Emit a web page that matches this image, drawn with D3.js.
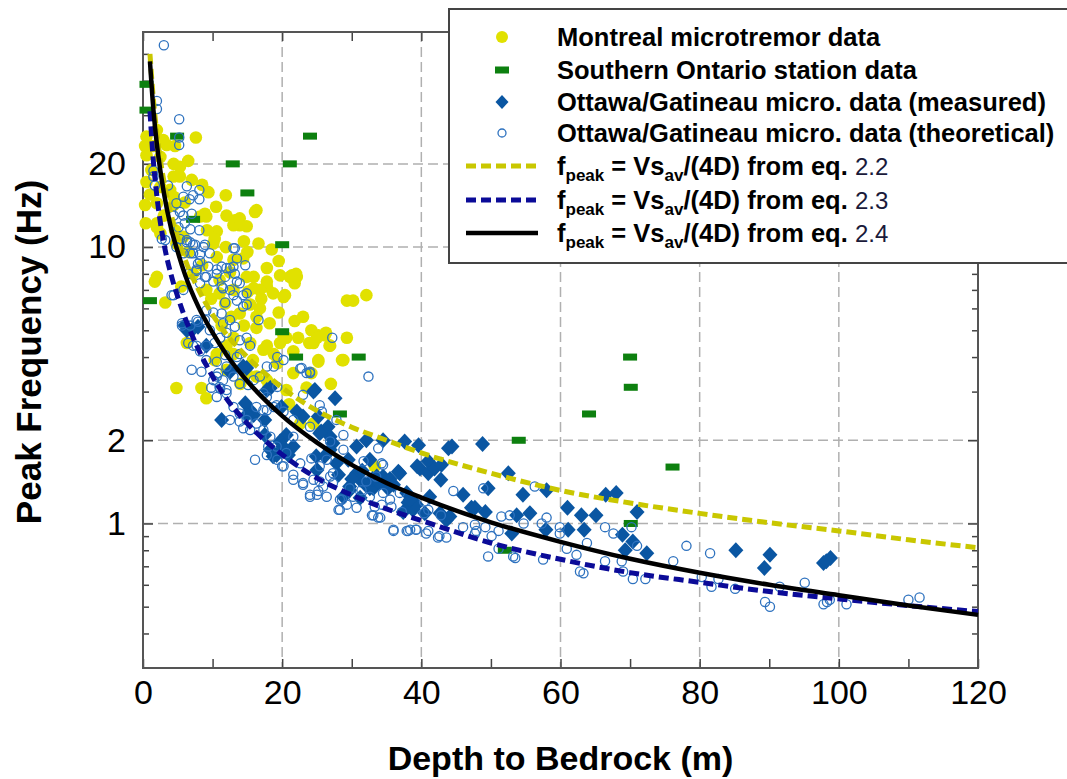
<!DOCTYPE html>
<html>
<head>
<meta charset="utf-8">
<script src="https://cdn.jsdelivr.net/npm/d3@7"></script>
<style>
  body { margin: 0; background: #fff; }
  text { font-family: "Liberation Sans", Arial, sans-serif; }
</style>
</head>
<body>
<svg id="chart" width="1067" height="779"></svg>
<script>
// depth (m), peak frequency (Hz)
var montreal = [
  [7.6,24.9],[0.5,25.1],[2,26.5],[2.9,24.4],[0.3,23.2],[1.5,23.2],[3.4,23.4],[4.6,23.2],
  [0.5,21.5],[2.5,21.2],[4.4,20],[5.3,19.5],[0.5,17.2],[2.5,16.5],[4.4,18],[5.3,18],[3.9,16.1],
  [4.4,15.2],[9.4,15.8],[11.9,15.4],[2,14.4],[4.4,14.2],[16.3,13.6],[16.1,13.4],[13.2,12.5],
  [13.9,12.0],[13,12],[8.9,13.2],[9.1,12.9],[2,12.2],[2.5,11.2],[10.6,11.4],[10.3,10.7],
  [16.6,10.3],[11.9,10.0],[4.8,10.3],[0.3,14.2],[0.4,12.2],[13.9,12.7],[14.9,11.9],
  [21.1,7.8],[22.1,7.8],[17.8,8.4],[15.9,7.8],[14.9,7.8],[17.8,7.2],[20.2,6.6],[29.3,6.4],
  [30.2,6.4],[32.1,6.7],[10.6,9.2],[13,9.0],[14.4,9.1],[2,7.8],[1.7,7.5],[3.2,6.3],[4.8,3.09],
  [8.4,3.09],[9.1,2.84],[16.3,5.6],[16.3,5.1],[17.8,4.4],[18.8,4.1],[19.3,3.8],[20.6,4.7],
  [21.8,5.4],[22.3,4.7],[21.6,4.2],[21.6,3.5],[23.9,4.5],[25.2,4.8],[26.1,4.8],[26.9,4.4],
  [25.2,3.9],[28.8,3.9],[29.3,4.7],[15.9,7.1],[17.8,7.5],[20.4,6.7],[21.8,7.4],[13,7.0],
  [13.9,5.75],[13,4.7],[10.6,4.1],[12,3.6],[13,4.1],[15.8,3.9],[14.9,3.5],[16.3,3.4],[17.8,3.3],
  [20.6,3.04],[33.3,1.61],[22.6,2.3],[24.5,2.3],[19.7,7.9],[21.4,7.9],[16.8,7.0],[18.7,6.8],
  [15.1,6.9],[16.8,6.0],[15.4,6.2],[24.2,5.0],[25,4.7],[12.7,5.6],[11.8,6.25],[9.1,7.0],
  [11.3,5.2],[15.4,4.5],[17.3,4.25],[19.7,4.5],[20.2,4.8],[10.3,3.9],[6.3,4.5],[2,11.8],
  [4.6,11.5],[5.8,10.9],[8.2,12.9],[9.2,11.5],[10.1,10.3],[26.3,4.9],[24.5,4.5],[26.8,4.4],
  [25.2,3.85],[28.6,3.9],[24.2,3.5],[6.5,9.6],[8.5,8.6],[7.2,8.0],[5.5,7.2],[9.8,6.5],
  [11,7.6],[12.5,8.1],[18.5,9.8],[19.5,8.9],[22,8.0],[1.2,19],[1,15.5],[3,13],[6,14.5],
  [7,17.5],[6.5,20.5],[8.5,16.8],[10.5,14],[12,13],[14.5,10.5],[15,9.6],
  [14,3.2],[18,3.1],[21,2.7],[23.5,3.1],[27,3.2],[18.2,5.3],[19.5,5.8],[14.5,5.2],[12,4.4],
  [17,6.5],[23,5.6],[11,6.8]
];

var ontario = [
  [0.5,38.8],[0.5,31.3],[4.9,25.2],[24,25.2],[12.9,20],[21.1,20],[15,15.7],[7.2,12.6],
  [20,10.2],[1,6.4],[20,4.94],[22,4.0],[31,4.0],[28.3,2.49],[54,2.0],[64.1,2.49],
  [70.1,3.11],[70,4.0],[76.1,1.6],[70.1,1.0],[52,0.8]
];

var ottawaMeasured = [
  [11.3,2.37],[9.1,4.4],[7.9,5.15],[6.3,5.0],[14.9,3.65],[12.5,3.54],[15.4,2.57],[15.9,2.47],
  [18.3,3.09],[19.9,2.64],[17.5,2.37],[19.2,1.77],[20.6,2.09],[21.6,1.9],[23,2.44],[24.7,3.04],
  [27.6,2.84],[25.2,2.44],[26.6,2.24],[25.6,2.15],[26.9,2.06],[24.9,1.75],[26.1,1.75],
  [27.8,1.65],[30.7,1.9],[32.1,2.0],[34.5,2.0],[37.6,1.98],[39.6,1.92],[43.9,1.87],[36.9,1.52],
  [39.8,1.58],[41,1.52],[42.8,1.44],[31.2,1.44],[32.6,1.34],[34.5,1.48],[37.9,1.29],[38.1,1.19],
  [38.8,1.12],[40.5,1.09],[42.7,1.09],[43.6,1.03],[41.2,1.25],[28.8,1.25],[29.7,1.36],
  [27.3,1.95],[29.5,1.7],[30.7,1.52],[25.4,2.12],[44.4,1.9],[32.6,1.7],[36.7,1.54],[39.4,1.61],
  [41,1.68],[41.9,1.58],[42.9,1.63],[46,1.27],[47.2,1.14],[44.1,1.06],[39.3,1.17],[38.4,1.22],
  [37.4,1.1],[33.1,1.34],[33.6,1.48],[31.2,1.24],[29.7,1.32],[28.1,1.5],[26.9,1.85],[25,1.56],
  [35.2,1.34],[48.8,1.94],[52.5,1.52],[49.6,1.34],[54.6,1.27],[58,1.32],[47.7,1.14],[49.2,1.1],
  [53.7,1.07],[55.6,1.09],[53,0.92],[57.9,0.95],[61,1.14],[63,1.07],[65.1,1.07],[61.1,0.95],
  [63.4,0.95],[66.5,1.27],[68,1.29],[71,1.1],[68.9,0.91],[70.4,0.86],[69.3,0.8],[72.4,0.78],
  [85.2,0.8],[90.1,0.77],[89.3,0.69],[97.8,0.72],[98.8,0.75],[98.2,0.73],[7,5.0],[6,5.2],
  [14.4,3.7],[14.7,2.72],[17.8,3.04],[24.5,3.0],[22.1,2.54],[14.9,2.47],[17.5,2.09],[19.7,1.98],
  [20.1,1.9],[18.7,1.75],[20.9,1.77],[18.3,1.85],[31.5,1.55],[33,1.45],[32,1.38],[34,1.4],
  [30,1.45],[35.5,1.45],[36,1.38]
];

var ottawaTheory = [
  [3,53.7],[2,33.8],[2,31.6],[5.2,29],[5.2,24.9],[5.2,23.4],[1.5,18.9],[1.5,18],[1.7,16.7],
  [3.6,16.7],[6.3,16.6],[8.1,16.1],[8.1,14.9],[6.7,14.9],[5.8,15.2],[4.8,14.4],[7.2,15.4],
  [5.3,13.4],[4.4,13],[5.8,13],[7,13.2],[6,12.2],[5.1,11.8],[6.8,11.6],[8.1,11.5],[5.3,10.7],
  [6.8,10.4],[3.2,10.6],[2.7,10.7],[7.2,10.2],[8.7,10],[13.2,9.9],[14.9,6.8],[13,6.7],
  [11.5,7.1],[9.1,7.8],[7.7,8.3],[7.2,9.5],[6.3,10.6],[4.8,10.0],[5.8,9.5],[8.2,8.9],[9.4,8.5],
  [10.6,8.0],[12,8.4],[13,8.5],[6.3,10.4],[7.5,10.2],[8.9,10.2],[6.8,9.5],[8.2,9.4],[9.6,9.5],
  [7.9,8.7],[10.6,8.3],[7.7,8.2],[6.5,8.0],[8.9,7.8],[11.3,8.5],[12.5,8.4],[13.2,8.0],
  [11.8,7.8],[10.1,7.5],[8.2,7.4],[5.8,7.0],[4.4,6.7],[11.3,7.2],[12.5,7.0],[13.9,7.4],
  [13,9.9],[14.4,6.7],[14.9,6.2],[14.4,6.1],[13.5,6.4],[11.8,6.3],[9.1,5.9],[10.1,5.8],
  [11.3,5.75],[8.9,5.45],[7.9,5.37],[6.8,5.2],[5.6,5.2],[9.6,5.0],[11.5,5.3],[12.5,5.45],
  [13.2,5.15],[12,4.9],[11.1,4.7],[10.3,4.5],[9.1,4.4],[7.7,4.4],[6.5,4.5],[4.1,6.7],[13.9,4.6],
  [14.9,4.7],[15.4,4.4],[13.9,4.1],[13.5,4.0],[11.8,4.07],[10.6,3.85],[12,3.7],[10.6,3.4],
  [11.5,3.3],[9.8,3.1],[11.1,3.08],[12,3.04],[13.9,3.2],[15.9,3.3],[16.8,3.4],[17.8,3.7],
  [18.8,3.7],[19.3,4.0],[20.2,3.9],[22.6,3.64],[23.5,3.5],[24,3.54],[23,2.92],[19.3,3.12],
  [17.8,2.87],[18.8,2.64],[17.3,2.57],[13.9,2.34],[14.4,2.21],[15.4,2.18],[12.5,2.37],[13,2.64],
  [10.6,2.87],[7,3.6],[8.4,3.54],[16.6,5.45],[13.5,9.1],[14.7,8.6],[13.5,7.5],
  [16.1,1.7],[18,1.9],[17.8,1.77],[19.3,1.7],[20,1.61],[21.6,1.5],[21.6,1.44],[23,1.4],[24,1.25],
  [25,1.27],[22.6,1.65],[24.5,1.44],[20.2,1.61],[23,1.38],[28.3,1.22],[28.3,1.12],[30.7,1.14],
  [32.9,1.07],[33.8,1.05],[36,0.94],[38.1,0.94],[39.3,0.95],[40.7,0.92],[42.6,0.9],[34.5,1.29],
  [32.1,1.42],[33.5,1.48],[31.7,1.68],[34.5,1.63],[33.8,1.87],[27.3,1.52],[27.3,1.4],[29.7,1.34],
  [26.4,1.7],[25.4,1.61],[27.8,2.37],[25.4,2.68],[25.7,2.54],[24,2.24],[21.6,2.06],[20.6,1.8],
  [19.2,1.9],[18.3,2.06],[17.3,2.18],[16.3,2.3],[14.9,2.37],[13.9,2.5],[12,2.96],[11,3.12],
  [10.1,3.3],[10.8,3.5],[13,3.4],[15.1,3.17],[17.3,2.96],[19.2,2.68],[20.2,2.54],[21.6,2.37],
  [22.8,3.65],[24,3.5],[27.2,4.7],[32.4,3.4],[17.8,2.57],[16.3,2.64],[9.1,3.9],[8.2,4.2],
  [7.2,4.4],[5.6,5.3],[7.7,5.45],[24,1.27],[25.2,1.31],[25.9,1.36],[26.4,1.25],[28.6,1.22],
  [28.1,1.12],[29.3,1.17],[30.2,1.25],[31.4,1.32],[32.6,1.25],[33.3,1.15],[33.1,1.07],[34.3,1.17],
  [34.1,1.05],[35.5,1.22],[35.7,1.15],[36,0.95],[36.9,1.29],[37.9,0.94],[38.4,0.95],[39.2,0.95],
  [41,0.94],[42.4,0.89],[43.6,0.89],[41,1.12],[42.8,1.07],[44.6,1.31],[46,0.97],[47.7,0.99],
  [47.9,0.94],[34.3,1.65],[28.8,2.09],[26.9,1.98],[28.8,1.85],[24.2,1.72],[25.4,1.42],[26.9,1.48],
  [37.2,1.1],[40.4,1.2],[40.4,1.09],[47.7,0.92],[49.2,0.97],[50.1,0.9],[49.6,0.76],[51.1,0.81],
  [51.1,0.94],[51.5,1.06],[52.7,1.07],[53.2,0.76],[53.5,0.75],[54.7,1.0],[57.3,1.0],[58,1.05],
  [57.5,0.74],[56.3,1.36],[59.9,0.97],[59.9,0.92],[60.9,0.81],[62.3,0.77],[62.8,0.67],[63.3,0.66],
  [63.8,0.85],[66.4,0.97],[66.4,0.73],[67.6,0.92],[68.8,0.73],[69,0.67],[70.4,0.63],[71,0.83],
  [72.2,0.63],[70.2,0.97],[76.2,0.73],[78.1,0.83],[48.9,1.34],[81.5,0.78],[80.3,0.64],[81.7,0.59],
  [82.7,0.63],[85.1,0.58],[89.4,0.52],[90.1,0.5],[91.5,0.59],[95.1,0.61],[97.8,0.51],[98.3,0.52],
  [98.7,0.53],[101.1,0.51],[110,0.53],[111.6,0.54]
];

// fitted curves f = Vs_av/(4D)
var curveDepth = [1,1.5,2,3,4,5,6,8,10,12,15,20,25,30,35,40,50,60,70,80,90,100,110,120];
var fEq22 = [50,34,25.75,17.3,13.25,10.8,9.08,7.0,5.7,4.83,4.0,3.1,2.56,2.23,2.0,1.8,1.52,1.317,1.186,1.088,1.006,0.94,0.873,0.817];
var fEq23 = [31,20.3,15.25,10.33,8.0,6.6,5.58,4.25,3.4,2.83,2.3,1.775,1.46,1.267,1.129,1.025,0.85,0.742,0.664,0.6125,0.567,0.533,0.5045,0.48];
var fEq24 = [47,31.3,23.5,15.7,11.8,9.6,8.0,6.05,4.9,4.08,3.27,2.45,1.96,1.63,1.4,1.24,1.01,0.858,0.745,0.663,0.6,0.55,0.505,0.467];

var xTicks = [0,20,40,60,80,100,120];
var xMinor = [10,30,50,70,90,110];
var yTicks = [1,2,10,20];
var yMinor = [0.4,0.5,0.6,0.7,0.8,0.9,3,4,5,6,7,8,9,30,40,50];

var svg = d3.select("#chart");
var mLeft = 143, mRight = 978, mTop = 32, mBottom = 668;

var x = d3.scaleLinear().domain([0,120]).range([mLeft,mRight]);
var y = d3.scaleLog().domain([0.3,60]).range([mBottom,mTop]);

// grid
var grid = svg.append("g").attr("stroke","#b0b0b0").attr("stroke-width",1.5).attr("stroke-dasharray","10,5");
grid.selectAll(".gx").data(xTicks.slice(1,-1)).enter().append("line")
  .attr("x1",function(d){return x(d)}).attr("x2",function(d){return x(d)})
  .attr("y1",mTop).attr("y2",mBottom);
grid.selectAll(".gy").data(yTicks).enter().append("line")
  .attr("x1",mLeft).attr("x2",mRight)
  .attr("y1",function(d){return y(d)}).attr("y2",function(d){return y(d)});

// axes: inward ticks on all four sides
function styleAxis(g){
  g.select(".domain").remove();
  g.selectAll(".tick line").attr("stroke","#444").attr("stroke-width",1.5);
}
svg.append("g").attr("transform","translate("+mLeft+",0)")
  .call(d3.axisLeft(y).tickValues(yMinor).tickSize(-6).tickFormat("")).call(styleAxis);
svg.append("g").attr("transform","translate("+mLeft+",0)")
  .call(d3.axisLeft(y).tickValues(yTicks).tickSize(-10).tickFormat("")).call(styleAxis);
svg.append("g").attr("transform","translate("+mRight+",0)")
  .call(d3.axisRight(y).tickValues(yMinor).tickSize(-6).tickFormat("")).call(styleAxis);
svg.append("g").attr("transform","translate("+mRight+",0)")
  .call(d3.axisRight(y).tickValues(yTicks).tickSize(-10).tickFormat("")).call(styleAxis);
svg.append("g").attr("transform","translate(0,"+mBottom+")")
  .call(d3.axisBottom(x).tickValues(xTicks.concat(xMinor)).tickSize(-9).tickFormat("")).call(styleAxis);
svg.append("g").attr("transform","translate(0,"+mTop+")")
  .call(d3.axisTop(x).tickValues(xTicks.concat(xMinor)).tickSize(-9).tickFormat("")).call(styleAxis);

// tick labels
var yl = svg.append("g").attr("transform","translate("+mLeft+",0)")
  .call(d3.axisLeft(y).tickValues(yTicks).tickSize(0).tickPadding(17).tickFormat(d3.format("d")));
yl.select(".domain").remove();
yl.selectAll("text").attr("font-size",34).attr("fill","#000")
  .attr("font-family","Liberation Sans, Arial, sans-serif");
var xl = svg.append("g").attr("transform","translate(0,"+mBottom+")")
  .call(d3.axisBottom(x).tickValues(xTicks).tickSize(0).tickPadding(12).tickFormat(d3.format("d")));
xl.select(".domain").remove();
xl.selectAll("text").attr("font-size",34).attr("fill","#000")
  .attr("font-family","Liberation Sans, Arial, sans-serif");

// frame
svg.append("rect").attr("x",mLeft).attr("y",mTop).attr("width",mRight-mLeft).attr("height",mBottom-mTop)
  .attr("fill","none").attr("stroke","#555").attr("stroke-width",2);

// axis titles
svg.append("text").attr("x",(mLeft+mRight)/2).attr("y",770).attr("text-anchor","middle")
  .attr("font-size",34).attr("font-weight","bold").text("Depth to Bedrock (m)");
svg.append("text").attr("transform","translate(41,352) rotate(-90)").attr("text-anchor","middle")
  .attr("font-size",35).attr("font-weight","bold").text("Peak Frequency (Hz)");

// data
var diamond = "M0,-8L7.5,0L0,8L-7.5,0Z";
var pts = svg.append("g");
pts.selectAll(".mtl").data(montreal).enter().append("circle")
  .attr("cx",function(d){return x(d[0])}).attr("cy",function(d){return y(d[1])})
  .attr("r",6.3).attr("fill","#e1e100");
pts.selectAll(".ont").data(ontario).enter().append("rect")
  .attr("x",function(d){return x(d[0])-7}).attr("y",function(d){return y(d[1])-3.5})
  .attr("width",14).attr("height",7).attr("fill","#0d800f");
pts.selectAll(".meas").data(ottawaMeasured).enter().append("path")
  .attr("d",diamond)
  .attr("transform",function(d){return "translate("+x(d[0])+","+y(d[1])+")"})
  .attr("fill","#0a56a2");
pts.selectAll(".theo").data(ottawaTheory).enter().append("circle")
  .attr("cx",function(d){return x(d[0])}).attr("cy",function(d){return y(d[1])})
  .attr("r",4.6).attr("fill","none").attr("stroke","#2e72bf").attr("stroke-width",1.3);

// curves
var line = d3.line().x(function(d){return x(d[0])}).y(function(d){return y(d[1])}).curve(d3.curveMonotoneX);
function pairs(f){ return curveDepth.map(function(d,i){return [d,f[i]]}) }
svg.append("path").attr("d",line(pairs(fEq22))).attr("fill","none")
  .attr("stroke","#c9c700").attr("stroke-width",5).attr("stroke-dasharray","10,5");
svg.append("path").attr("d",line(pairs(fEq23))).attr("fill","none")
  .attr("stroke","#0b0b98").attr("stroke-width",5).attr("stroke-dasharray","10,5");
svg.append("path").attr("d",line(pairs(fEq24))).attr("fill","none")
  .attr("stroke","#000").attr("stroke-width",4.5);

// legend
var lg = svg.append("g");
lg.append("rect").attr("x",449).attr("y",9).attr("width",640).attr("height",254)
  .attr("fill","#fff").attr("stroke","#444").attr("stroke-width",2);
var rowY = [37,70,102,133,166,200,233];
lg.append("circle").attr("cx",502).attr("cy",rowY[0]).attr("r",6).attr("fill","#e1e100");
lg.append("rect").attr("x",495).attr("y",rowY[1]-3.5).attr("width",14).attr("height",7).attr("fill","#0d800f");
lg.append("path").attr("d","M0,-7L6.5,0L0,7L-6.5,0Z").attr("transform","translate(502,"+rowY[2]+")").attr("fill","#0a56a2");
lg.append("circle").attr("cx",502).attr("cy",rowY[3]).attr("r",4).attr("fill","none")
  .attr("stroke","#2e72bf").attr("stroke-width",1.3);
var lineStyles = [["#c9c700","10,5",5],["#0b0b98","10,5",5],["#000","none",4.5]];
lineStyles.forEach(function(s,i){
  lg.append("line").attr("x1",466).attr("x2",538).attr("y1",rowY[4+i]).attr("y2",rowY[4+i])
    .attr("stroke",s[0]).attr("stroke-dasharray",s[1]).attr("stroke-width",s[2]);
});
var labels = ["Montreal microtremor data","Southern Ontario station data",
  "Ottawa/Gatineau micro. data (measured)","Ottawa/Gatineau micro. data (theoretical)"];
labels.forEach(function(t,i){
  lg.append("text").attr("x",557).attr("y",rowY[i]+9).attr("font-size",25.5)
    .attr("font-weight","bold").text(t);
});
["2.2","2.3","2.4"].forEach(function(eq,i){
  var t = lg.append("text").attr("x",557).attr("y",rowY[4+i]+9).attr("font-size",25.5).attr("font-weight","bold");
  t.append("tspan").text("f");
  t.append("tspan").attr("dy",6).attr("font-size",17).text("peak");
  t.append("tspan").attr("dy",-6).text(" = Vs");
  t.append("tspan").attr("dy",6).attr("font-size",17).text("av");
  t.append("tspan").attr("dy",-6).text("/(4D) from eq. ");
  t.append("tspan").attr("font-weight","normal").attr("font-size",24).attr("fill","#1a1a3a").text(eq);
});
</script>
</body>
</html>
